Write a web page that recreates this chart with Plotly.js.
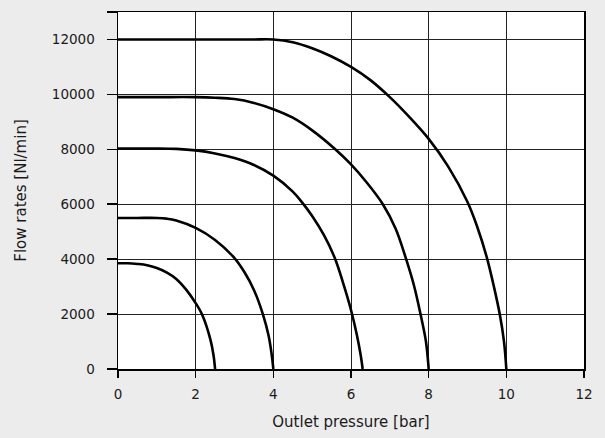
<!DOCTYPE html>
<html>
<head>
<meta charset="utf-8">
<script src="https://cdn.plot.ly/plotly-3.0.1.min.js"></script>
<style>html,body{margin:0;padding:0;background:#ececec;}#chart{width:605px;height:438px;}</style>
</head>
<body>
<div id="chart"></div>
<script>
// Outlet pressure [bar] and flow rate [Nl/min] for each curve
const c1x = [0, 0.25, 0.5, 0.75, 1.0, 1.25, 1.5, 1.75, 2.0, 2.16, 2.38, 2.46, 2.5];
const c1y = [3850, 3850, 3825, 3780, 3680, 3520, 3280, 2900, 2400, 2000, 1070, 500, 0];

const c2x = [0, 0.5, 1.0, 1.25, 1.5, 2.0, 2.5, 3.0, 3.25, 3.5, 3.73, 3.88, 3.96, 4.0];
const c2y = [5500, 5500, 5500, 5475, 5410, 5140, 4700, 4040, 3540, 2880, 2000, 1200, 500, 0];

const c3x = [0, 0.5, 1.0, 1.5, 2.0, 2.5, 3.0, 3.5, 4.0, 4.5, 4.75, 5.0, 5.3, 5.58, 5.8, 6.0, 6.15, 6.25, 6.3];
const c3y = [8030, 8030, 8030, 8015, 7960, 7850, 7680, 7430, 7040, 6460, 6050, 5570, 4880, 4050, 3120, 2150, 1250, 500, 0];

const c4x = [0, 1.0, 2.0, 2.5, 3.0, 3.5, 4.0, 4.5, 5.0, 5.58, 6.0, 6.4, 6.82, 7.15, 7.42, 7.62, 7.79, 7.93, 8.0];
const c4y = [9900, 9900, 9900, 9880, 9830, 9690, 9460, 9150, 8690, 8020, 7450, 6800, 6000, 5110, 4000, 3050, 2000, 1000, 0];

const c5x = [0, 1.0, 2.0, 3.0, 3.5, 4.0, 4.5, 5.0, 5.5, 6.0, 6.5, 7.0, 7.5, 8.0, 8.5, 9.0, 9.25, 9.5, 9.68, 9.83, 9.94, 10.0];
const c5y = [12000, 12000, 12000, 12000, 12000, 12000, 11900, 11680, 11380, 11000, 10520, 9900, 9180, 8380, 7380, 6080, 5180, 4050, 3000, 2000, 1000, 0];

const yTickVals = [0, 2000, 4000, 6000, 8000, 10000, 12000, 13000];
const yTickText = ['0', '2000', '4000', '6000', '8000', '10000', '12000', ''];
const xTickVals = [0, 2, 4, 6, 8, 10, 12];

const curves = [[c1x, c1y], [c2x, c2y], [c3x, c3y], [c4x, c4y], [c5x, c5y]];
const traces = curves.map(c => ({
  x: c[0], y: c[1], type: 'scatter', mode: 'lines',
  line: {color: '#000', width: 2.6, shape: 'spline', smoothing: 1},
  hoverinfo: 'skip', showlegend: false
}));

const fam = 'DejaVu Sans, sans-serif';
const txt = '#1a1a1a';
const layout = {
  width: 605, height: 438,
  margin: {l: 118, r: 21, t: 12, b: 69, pad: 0},
  paper_bgcolor: '#ececec', plot_bgcolor: '#ffffff',
  font: {family: fam, size: 13.5, color: txt},
  showlegend: false,
  xaxis: {
    range: [0, 12], tickmode: 'array', tickvals: xTickVals,
    showgrid: true, gridcolor: '#222', gridwidth: 1,
    zeroline: false, showline: true, linecolor: '#000', linewidth: 1.5, mirror: true,
    ticks: 'outside', ticklen: 7, tickcolor: '#000', tickwidth: 1.5,
    ticklabelstandoff: 5,
    tickfont: {family: fam, size: 13.5, color: txt},
    title: {text: 'Outlet pressure [bar]', font: {family: fam, size: 15, color: txt}, standoff: 16}
  },
  yaxis: {
    range: [0, 13000], tickmode: 'array', tickvals: yTickVals, ticktext: yTickText,
    showgrid: true, gridcolor: '#222', gridwidth: 1,
    zeroline: false, showline: true, linecolor: '#000', linewidth: 1.5, mirror: true,
    ticks: 'outside', ticklen: 10, tickcolor: '#000', tickwidth: 1.5,
    ticklabelstandoff: 9,
    tickfont: {family: fam, size: 13.5, color: txt},
    title: {text: 'Flow rates [Nl/min]', font: {family: fam, size: 15, color: txt}, standoff: 21}
  }
};

Plotly.newPlot('chart', traces, layout, {displayModeBar: false, staticPlot: true});
</script>
</body>
</html>
